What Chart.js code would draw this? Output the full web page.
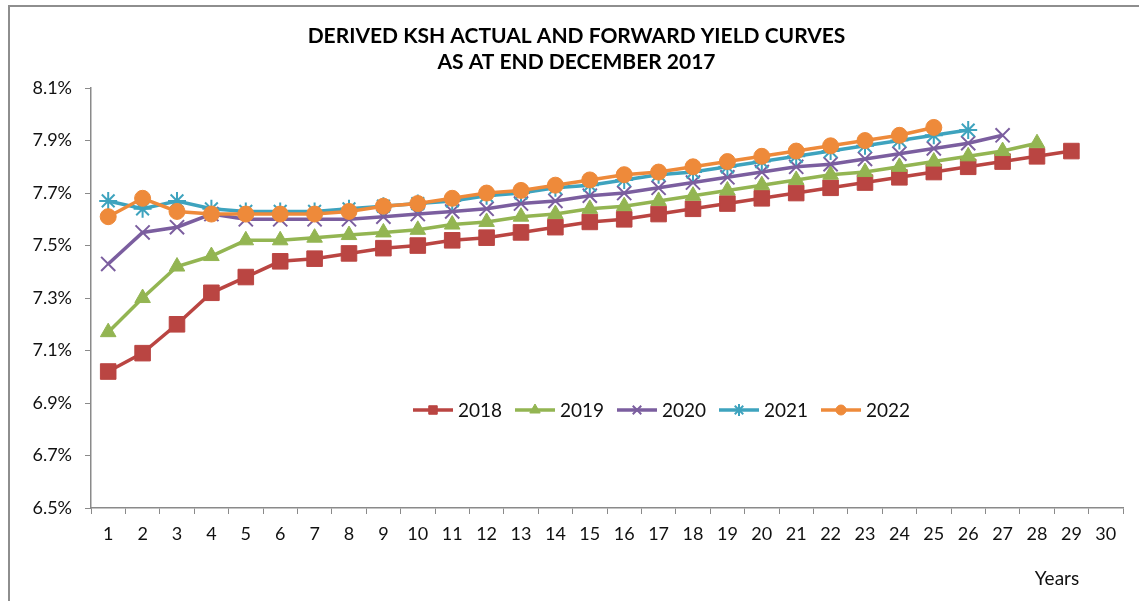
<!DOCTYPE html>
<html>
<head>
<meta charset="utf-8">
<script src="https://cdn.jsdelivr.net/npm/chart.js@4/dist/chart.umd.min.js"></script>
<style>
    html, body { margin: 0; padding: 0; background: #fff; }
    #wrap { position: relative; width: 1139px; height: 601px; }
</style>
</head>
<body>
<div id="wrap"><canvas id="yieldChart"></canvas></div>
<script>
const years = ['1', '2', '3', '4', '5', '6', '7', '8', '9', '10', '11', '12', '13', '14', '15',
    '16', '17', '18', '19', '20', '21', '22', '23', '24', '25', '26', '27', '28', '29', '30'];

const curve2018 = [7.02, 7.09, 7.20, 7.32, 7.38, 7.44, 7.45, 7.47, 7.49, 7.50, 7.52, 7.53, 7.55, 7.57, 7.59,
    7.60, 7.62, 7.64, 7.66, 7.68, 7.70, 7.72, 7.74, 7.76, 7.78, 7.80, 7.82, 7.84, 7.86];
const curve2019 = [7.17, 7.30, 7.42, 7.46, 7.52, 7.52, 7.53, 7.54, 7.55, 7.56, 7.58, 7.59, 7.61, 7.62, 7.64,
    7.65, 7.67, 7.69, 7.71, 7.73, 7.75, 7.77, 7.78, 7.80, 7.82, 7.84, 7.86, 7.89];
const curve2020 = [7.43, 7.55, 7.57, 7.62, 7.60, 7.60, 7.60, 7.60, 7.61, 7.62, 7.63, 7.64, 7.66, 7.67, 7.69,
    7.70, 7.72, 7.74, 7.76, 7.78, 7.80, 7.81, 7.83, 7.85, 7.87, 7.89, 7.92];
const curve2021 = [7.67, 7.64, 7.67, 7.64, 7.63, 7.63, 7.63, 7.64, 7.65, 7.66, 7.67, 7.69, 7.70, 7.72, 7.73,
    7.75, 7.77, 7.78, 7.80, 7.82, 7.84, 7.86, 7.88, 7.90, 7.92, 7.94];
const curve2022 = [7.61, 7.68, 7.63, 7.62, 7.62, 7.62, 7.62, 7.63, 7.65, 7.66, 7.68, 7.70, 7.71, 7.73, 7.75,
    7.77, 7.78, 7.80, 7.82, 7.84, 7.86, 7.88, 7.90, 7.92, 7.95];

const yMin = 6.5;
const yMax = 8.1;
const yStep = 0.2;

const FONT = 'Lato, "Open Sans", sans-serif';

function series(label, data, color, pointStyle, radius, order) {
    return {
        label: label,
        data: data,
        borderColor: color,
        backgroundColor: color,
        borderWidth: 3.5,
        pointStyle: pointStyle,
        pointRadius: radius,
        pointHoverRadius: radius,
        pointBorderWidth: pointStyle === 'crossRot' || pointStyle === 'star' ? 2 : 1,
        pointBorderColor: color,
        pointBackgroundColor: color,
        tension: 0,
        order: order
    };
}

// grey frame round the whole chart, like the Excel chart border
const framePlugin = {
    id: 'frame',
    beforeDraw(chart) {
        const ctx = chart.ctx;
        ctx.save();
        ctx.fillStyle = '#fff';
        ctx.fillRect(0, 0, chart.width, chart.height);
        ctx.strokeStyle = '#8e8e8e';
        ctx.lineWidth = 2;
        ctx.strokeRect(9, 6, chart.width + 20, chart.height + 20);
        ctx.restore();
    }
};

// legend sits inside the plot area, low down
const innerLegend = {
    id: 'innerLegend',
    afterDatasetsDraw(chart) {
        const ctx = chart.ctx;
        const y = 410;
        let x = 413;
        ctx.save();
        ctx.font = '19px ' + FONT;
        ctx.textBaseline = 'middle';
        chart.data.datasets.forEach(ds => {
            ctx.strokeStyle = ds.borderColor;
            ctx.lineWidth = 3.5;
            ctx.beginPath();
            ctx.moveTo(x, y);
            ctx.lineTo(x + 40, y);
            ctx.stroke();
            ctx.fillStyle = ds.borderColor;
            ctx.lineWidth = ds.pointBorderWidth;
            Chart.helpers.drawPoint(ctx, {
                pointStyle: ds.pointStyle,
                rotation: 0,
                borderWidth: ds.pointBorderWidth
            }, x + 20, y);
            ctx.fillStyle = '#111';
            ctx.fillText(ds.label, x + 45, y + 1);
            x += 102;
        });
        ctx.restore();
    }
};

// axis title "Years" at the bottom right
const yearsLabel = {
    id: 'yearsLabel',
    afterDraw(chart) {
        const ctx = chart.ctx;
        ctx.save();
        ctx.font = '19px ' + FONT;
        ctx.fillStyle = '#111';
        ctx.textAlign = 'center';
        ctx.textBaseline = 'middle';
        ctx.fillText('Years', 1057, 579);
        ctx.restore();
    }
};

// legend markers use a small radius
const legendRadius = { rect: 6, triangle: 6, crossRot: 6, star: 6, circle: 5 };
const origDrawPoint = Chart.helpers.drawPoint;
Chart.helpers.drawPoint = function (ctx, opts, x, y) {
    const r = legendRadius[opts.pointStyle] || 5;
    return origDrawPoint(ctx, Object.assign({}, opts, { radius: r }), x, y);
};

new Chart(document.getElementById('yieldChart'), {
    type: 'line',
    data: {
        labels: years,
        datasets: [
            series('2018', curve2018, '#BA4542', 'rect', 11, 5),
            series('2019', curve2019, '#93B552', 'triangle', 9, 4),
            series('2020', curve2020, '#7B5E9F', 'crossRot', 10, 3),
            series('2021', curve2021, '#3EA3BE', 'star', 9, 2),
            series('2022', curve2022, '#EE8A3A', 'circle', 8, 1)
        ]
    },
    options: {
        responsive: true,
        maintainAspectRatio: false,
        animation: false,
        layout: { padding: { left: 30, right: 16, top: 0, bottom: 0 } },
        plugins: {
            legend: { display: false },
            tooltip: { enabled: false },
            title: {
                display: true,
                text: ['DERIVED KSH ACTUAL AND FORWARD YIELD CURVES', 'AS AT END DECEMBER 2017'],
                color: '#000',
                font: { family: FONT, size: 21, weight: 'bold', lineHeight: 1.24 },
                padding: { top: 23, bottom: 13 }
            }
        },
        scales: {
            x: {
                offset: true,
                grid: {
                    offset: true,
                    drawOnChartArea: false,
                    drawTicks: true,
                    tickLength: 6,
                    color: '#8a8a8a'
                },
                border: { display: true, color: '#8a8a8a', width: 1.5 },
                ticks: {
                    color: '#111',
                    font: { family: FONT, size: 18 },
                    padding: 9,
                    maxRotation: 0,
                    autoSkip: false
                },
                afterFit(scale) { scale.height = 93; }
            },
            y: {
                min: yMin,
                max: yMax,
                grid: {
                    drawOnChartArea: false,
                    drawTicks: true,
                    tickLength: 6,
                    color: '#8a8a8a'
                },
                border: { display: true, color: '#8a8a8a', width: 1.5 },
                ticks: {
                    stepSize: yStep,
                    color: '#111',
                    font: { family: FONT, size: 18 },
                    padding: 13,
                    callback: v => v.toFixed(1) + '%'
                },
                afterFit(scale) { scale.width = 61; }
            }
        }
    },
    plugins: [framePlugin, innerLegend, yearsLabel]
});
</script>
</body>
</html>
